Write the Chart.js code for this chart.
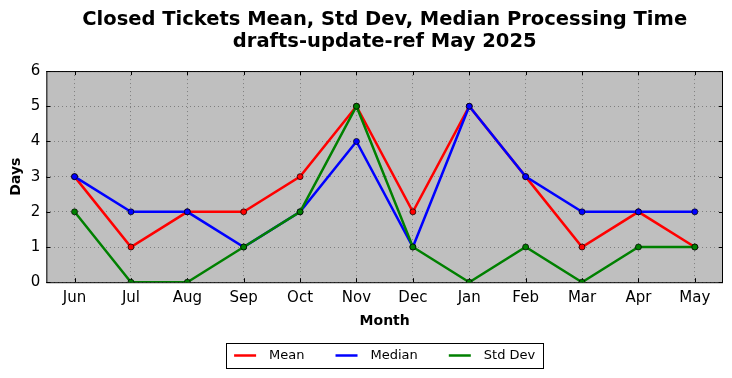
<!DOCTYPE html>
<html>
<head>
<meta charset="utf-8">
<script src="https://cdn.jsdelivr.net/npm/chart.js@4.4.1/dist/chart.umd.min.js"></script>
<style>
  html, body { margin: 0; padding: 0; background: #fff; }
  #wrap { width: 732px; height: 378px; }
</style>
</head>
<body>
<div id="wrap"><canvas id="ticketChart" width="732" height="378"></canvas></div>
<script>
const months = ['Jun', 'Jul', 'Aug', 'Sep', 'Oct', 'Nov', 'Dec', 'Jan', 'Feb', 'Mar', 'Apr', 'May'];
const meanDays = [3, 1, 2, 2, 3, 5, 2, 5, 3, 1, 2, 1];
const medianDays = [3, 2, 2, 1, 2, 4, 1, 5, 3, 2, 2, 2];
const stdDevDays = [2, 0, 0, 1, 2, 5, 1, 0, 1, 0, 1, 1];
const yTicks = [0, 1, 2, 3, 4, 5, 6];

const FONT = "'DejaVu Sans', sans-serif";

function series(label, data, color, order) {
    return {
        label: label,
        data: data,
        borderColor: color,
        backgroundColor: color,
        borderWidth: 2.5,
        pointRadius: 3,
        pointBorderColor: '#000',
        pointBorderWidth: 0.7,
        pointBackgroundColor: color,
        tension: 0,
        order: order
    };
}

// gray plot area + black frame
const plotFrame = {
    id: 'plotFrame',
    beforeDraw(chart) {
        const a = chart.chartArea;
        const ctx = chart.ctx;
        ctx.save();
        ctx.fillStyle = '#bfbfbf';
        ctx.fillRect(a.left, a.top, a.right - a.left, a.bottom - a.top);
        ctx.restore();
    },
    beforeDatasetsDraw(chart) {
        const a = chart.chartArea;
        const ctx = chart.ctx;
        ctx.save();
        ctx.strokeStyle = '#000';
        ctx.lineWidth = 1;
        ctx.strokeRect(a.left + 0.5, a.top + 0.5, a.right - a.left - 1, a.bottom - a.top);
        // small inward tick marks
        const xs = chart.scales.x, ys = chart.scales.y;
        ctx.beginPath();
        months.forEach((m, i) => {
            const px = Math.round(xs.getPixelForTick(i)) + 0.5;
            ctx.moveTo(px, a.bottom); ctx.lineTo(px, a.bottom - 4);
            ctx.moveTo(px, a.top); ctx.lineTo(px, a.top + 4);
        });
        yTicks.forEach(v => {
            const py = Math.round(ys.getPixelForValue(v)) + 0.5;
            ctx.moveTo(a.left, py); ctx.lineTo(a.left + 4, py);
            ctx.moveTo(a.right, py); ctx.lineTo(a.right - 4, py);
        });
        ctx.stroke();
        ctx.restore();
    },
    afterDraw(chart) {
        const boxes = chart.legend.legendHitBoxes;
        if (!boxes || !boxes.length) return;
        const first = boxes[0], last = boxes[boxes.length - 1];
        const ctx = chart.ctx;
        ctx.save();
        ctx.strokeStyle = '#000';
        ctx.lineWidth = 1;
        const x1 = Math.round(first.left - 8) + 0.5;
        const x2 = Math.round(last.left + last.width + 8) + 0.5;
        const y1 = Math.round(first.top - 6) + 0.5;
        const y2 = Math.round(first.top + first.height + 6) + 0.5;
        ctx.strokeRect(x1, y1, x2 - x1, y2 - y1);
        ctx.restore();
    }
};

new Chart(document.getElementById('ticketChart').getContext('2d'), {
    type: 'line',
    data: {
        labels: months,
        datasets: [
            series('Mean', meanDays, '#ff0000', 2),
            series('Median', medianDays, '#0000ff', 1),
            series('Std Dev', stdDevDays, '#008000', 0)
        ]
    },
    options: {
        responsive: false,
        animation: false,
        layout: { padding: { left: 8, right: 9, top: 0, bottom: 6 } },
        plugins: {
            title: {
                display: true,
                fullSize: false,
                text: ['Closed Tickets Mean, Std Dev, Median Processing Time', 'drafts-update-ref May 2025'],
                color: '#000',
                font: { family: FONT, size: 19.5, weight: 'bold', lineHeight: 1.13 },
                padding: { top: 9, bottom: 18 }
            },
            legend: {
                position: 'bottom',
                fullSize: false,
                labels: {
                    color: '#000',
                    font: { family: FONT, size: 13 },
                    usePointStyle: true,
                    pointStyle: 'line',
                    pointStyleWidth: 22,
                    padding: 31,
                    generateLabels(chart) {
                        // en space keeps the matplotlib-like gap between line and text
                        return chart.data.datasets.map((ds, i) => ({
                            text: '\u2002' + ds.label,
                            fillStyle: ds.borderColor,
                            strokeStyle: ds.borderColor,
                            lineWidth: ds.borderWidth,
                            pointStyle: 'line',
                            fontColor: '#000',
                            hidden: false,
                            datasetIndex: i
                        }));
                    }
                }
            },
            tooltip: { enabled: false }
        },
        scales: {
            x: {
                offset: true,
                grid: { offset: false, color: '#7f7f7f', drawTicks: false },
                border: { display: false, dash: [1, 3] },
                ticks: { color: '#000', font: { family: FONT, size: 15 }, padding: 7 },
                title: {
                    display: true,
                    text: 'Month',
                    color: '#000',
                    font: { family: FONT, size: 14, weight: 'bold' },
                    padding: { top: -1, bottom: -12 }
                }
            },
            y: {
                min: 0,
                max: 6,
                afterBuildTicks(scale) { scale.ticks = yTicks.map(v => ({ value: v })); },
                grid: { color: '#7f7f7f', drawTicks: false },
                border: { display: false, dash: [1, 3] },
                ticks: { color: '#000', font: { family: FONT, size: 15 }, padding: 6 },
                title: {
                    display: true,
                    text: 'Days',
                    color: '#000',
                    font: { family: FONT, size: 14, weight: 'bold' },
                    padding: { top: 0, bottom: 0 }
                }
            }
        }
    },
    plugins: [plotFrame]
});
</script>
</body>
</html>
